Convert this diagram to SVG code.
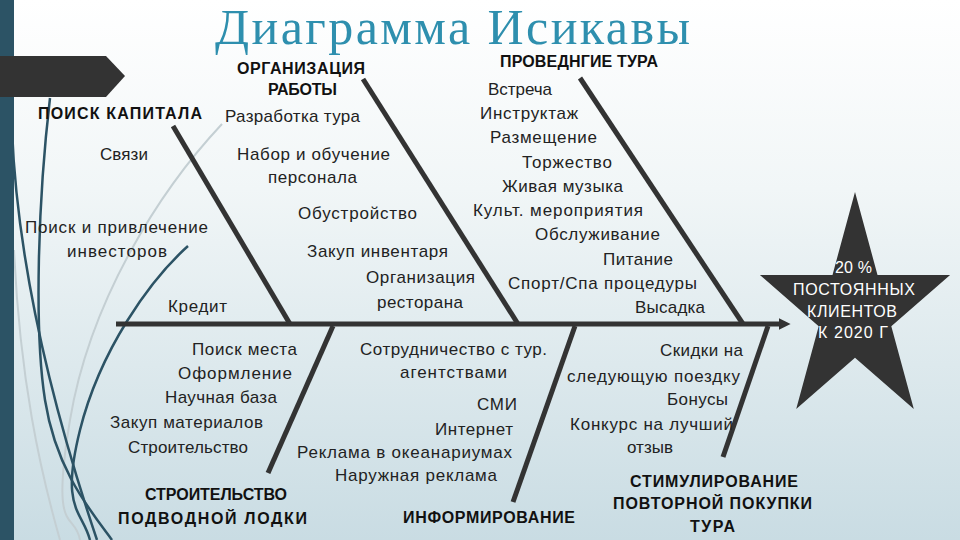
<svg xmlns="http://www.w3.org/2000/svg" width="960" height="540" viewBox="0 0 960 540">
<defs>
<linearGradient id="bg" x1="0" y1="0" x2="0" y2="1">
<stop offset="0" stop-color="#ffffff"/>
<stop offset="0.35" stop-color="#f1f6f7"/>
<stop offset="1" stop-color="#c9dce3"/>
</linearGradient>
<marker id="arr" viewBox="0 0 10 10" refX="2" refY="5" markerWidth="2.4" markerHeight="2.4" orient="auto" markerUnits="strokeWidth">
<path d="M0,0 L10,5 L0,10 z" fill="#333"/>
</marker>
<style>
.it{font-family:"Liberation Sans",Arial,sans-serif;font-size:17px;fill:#222}
.hd{font-family:"Liberation Sans",Arial,sans-serif;font-size:16px;font-weight:bold;fill:#111}
.st{font-family:"Liberation Sans",Arial,sans-serif;font-size:16px;fill:#fff}
.bone{stroke:#333;stroke-width:5;fill:none;stroke-linecap:butt}
.dk{stroke:#2c5365;fill:none;stroke-width:2.5}
.lt{stroke:#c4cfd3;fill:none;stroke-width:2}
</style>
</defs>
<rect width="960" height="540" fill="url(#bg)"/>
<g id="decor">
<path class="lt" d="M222 124 C160 190 90 300 70 420 S75 510 80 540"/>
<path class="lt" d="M14 250 C20 380 40 470 60 540"/>
<path class="dk" d="M12 130 C18 280 60 430 97 540"/>
<path class="dk" d="M50 98 C38 200 34 330 45 400 S90 510 112 540"/>
<path class="dk" stroke-width="2" d="M188 246 C150 280 100 350 80 430 S82 510 90 540"/>
<rect x="0" y="0" width="14" height="540" fill="#2c5365"/>
<polygon points="0,56 106,56 125,76 106,97 0,97" fill="#333"/>
</g>
<text x="215" y="44" font-family="Liberation Serif,Times New Roman,serif" font-size="50" fill="#2e8fae" textLength="475">Диаграмма Исикавы</text>
<g id="connectors">
<line class="bone" x1="116" y1="324" x2="781" y2="324" marker-end="url(#arr)"/>
<line class="bone" x1="173" y1="126" x2="290" y2="324"/>
<line class="bone" x1="363" y1="79" x2="518" y2="324"/>
<line class="bone" x1="580" y1="78" x2="743" y2="324"/>
<line class="bone" x1="333" y1="326" x2="268" y2="473"/>
<line class="bone" x1="575" y1="326" x2="513" y2="502"/>
<line class="bone" x1="768" y1="326" x2="723" y2="457"/>
</g>
<g id="poisk-kapitala">
<text class="hd" x="38" y="119" textLength="164">ПОИСК КАПИТАЛА</text>
<text class="it" x="100" y="160" textLength="48">Связи</text>
<text class="it" x="25" y="233" textLength="183">Поиск и привлечение</text>
<text class="it" x="67" y="257" textLength="100">инвесторов</text>
<text class="it" x="168" y="312" textLength="59">Кредит</text>
</g>
<g id="organizatsiya-raboty">
<text class="hd" x="237" y="74" textLength="128">ОРГАНИЗАЦИЯ</text>
<text class="hd" x="268" y="95" textLength="69">РАБОТЫ</text>
<text class="it" x="225" y="122" textLength="135">Разработка тура</text>
<text class="it" x="237" y="160" textLength="153">Набор и обучение</text>
<text class="it" x="268" y="183" textLength="89">персонала</text>
<text class="it" x="298" y="219" textLength="119">Обустройство</text>
<text class="it" x="307" y="257" textLength="141">Закуп инвентаря</text>
<text class="it" x="366" y="283" textLength="109">Организация</text>
<text class="it" x="377" y="308" textLength="86">ресторана</text>
</g>
<g id="provedenie-tura">
<text class="hd" x="500" y="67" textLength="158">ПРОВЕДНГИЕ ТУРА</text>
<text class="it" x="488" y="95" textLength="64">Встреча</text>
<text class="it" x="480" y="119" textLength="98">Инструктаж</text>
<text class="it" x="490" y="143" textLength="107">Размещение</text>
<text class="it" x="522" y="168" textLength="90">Торжество</text>
<text class="it" x="502" y="192" textLength="121">Живая музыка</text>
<text class="it" x="473" y="216" textLength="170">Культ. мероприятия</text>
<text class="it" x="535" y="240" textLength="125">Обслуживание</text>
<text class="it" x="603" y="265" textLength="70">Питание</text>
<text class="it" x="508" y="289" textLength="189">Спорт/Спа процедуры</text>
<text class="it" x="635" y="313" textLength="70">Высадка</text>
</g>
<g id="stroitelstvo-lodki">
<text class="it" x="192" y="355" textLength="105">Поиск места</text>
<text class="it" x="178" y="379" textLength="114">Оформление</text>
<text class="it" x="165" y="403" textLength="112">Научная база</text>
<text class="it" x="110" y="428" textLength="153">Закуп материалов</text>
<text class="it" x="128" y="453" textLength="120">Строительство</text>
<text class="hd" x="145" y="500" textLength="142">СТРОИТЕЛЬСТВО</text>
<text class="hd" x="118" y="524" textLength="189">ПОДВОДНОЙ ЛОДКИ</text>
</g>
<g id="informirovanie">
<text class="it" x="360" y="355" textLength="187">Сотрудничество с тур.</text>
<text class="it" x="400" y="378" textLength="107">агентствами</text>
<text class="it" x="477" y="410" textLength="40">СМИ</text>
<text class="it" x="435" y="435" textLength="78">Интернет</text>
<text class="it" x="297" y="458" textLength="215">Реклама в океанариумах</text>
<text class="it" x="335" y="481" textLength="162">Наружная реклама</text>
<text class="hd" x="403" y="523" textLength="172">ИНФОРМИРОВАНИЕ</text>
</g>
<g id="stimulirovanie">
<text class="it" x="660" y="356" textLength="83">Скидки на</text>
<text class="it" x="567" y="382" textLength="173">следующую поездку</text>
<text class="it" x="667" y="405" textLength="61">Бонусы</text>
<text class="it" x="570" y="430" textLength="163">Конкурс на лучший</text>
<text class="it" x="650" y="453" text-anchor="middle">отзыв</text>
<text class="hd" x="630" y="487" textLength="168">СТИМУЛИРОВАНИЕ</text>
<text class="hd" x="613" y="509" textLength="199">ПОВТОРНОЙ ПОКУПКИ</text>
<text class="hd" x="690" y="532" textLength="45">ТУРА</text>
</g>
<g id="goal-star">
<polygon points="855,192 877.5,274.9 950.1,274.9 891.3,326.2 913.8,409.1 855,357.8 796.2,409.1 818.7,326.2 759.9,274.9 832.5,274.9" fill="#333"/>
<text class="st" x="835" y="273" textLength="37">20 %</text>
<text class="st" x="793" y="295" textLength="122">ПОСТОЯННЫХ</text>
<text class="st" x="807" y="317" textLength="90">КЛИЕНТОВ</text>
<text class="st" x="818" y="338" textLength="70">К 2020 Г</text>
</g>
</svg>
